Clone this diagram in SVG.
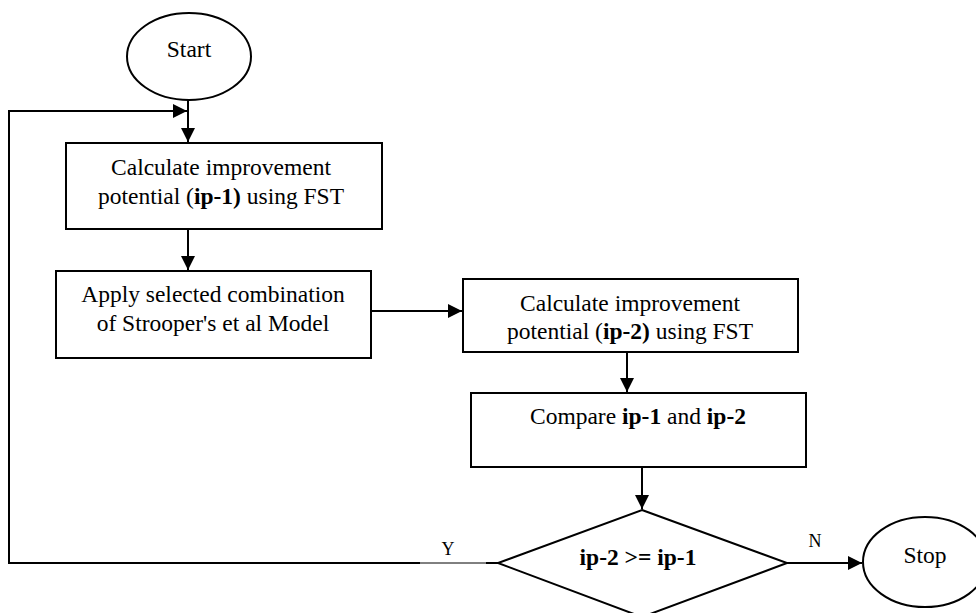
<svg xmlns="http://www.w3.org/2000/svg" width="976" height="613" viewBox="0 0 976 613">
  <style>
    .shape { fill: #ffffff; stroke: #000000; stroke-width: 2; }
    .wire { fill: none; stroke: #000000; stroke-width: 2; }
    .thin { fill: none; stroke: #000000; stroke-width: 1; }
    .txt { font-family: "Liberation Serif", "Times New Roman", serif; font-size: 23.5px; fill: #000000; text-anchor: middle; }
    .lbl { font-family: "Liberation Serif", "Times New Roman", serif; font-size: 18px; fill: #000000; text-anchor: middle; }
    .b { font-weight: bold; }
  </style>
  <defs>
    <marker id="arrow" markerUnits="userSpaceOnUse" markerWidth="15" markerHeight="15" refX="14" refY="7" orient="auto">
      <path d="M0,0 L14,7 L0,14 z" fill="#000000"/>
    </marker>
  </defs>
  <rect width="976" height="613" fill="#ffffff"/>

  <g id="connectors">
    <!-- Start to first calculation -->
    <line class="wire" x1="188" y1="100" x2="188" y2="142" marker-end="url(#arrow)"/>
    <!-- ip-1 to model application -->
    <line class="wire" x1="188" y1="229" x2="188" y2="270" marker-end="url(#arrow)"/>
    <!-- model application to ip-2 -->
    <line class="wire" x1="371" y1="311" x2="462" y2="311" marker-end="url(#arrow)"/>
    <!-- ip-2 to comparison -->
    <line class="wire" x1="627" y1="352" x2="627" y2="392" marker-end="url(#arrow)"/>
    <!-- comparison to decision -->
    <line class="wire" x1="642" y1="467" x2="642" y2="509" marker-end="url(#arrow)"/>
    <!-- decision: N to Stop -->
    <line class="wire" x1="787" y1="563" x2="862" y2="563" marker-end="url(#arrow)"/>
    <!-- decision: Y loops back above the first calculation -->
    <line class="wire" x1="498" y1="563" x2="486" y2="563"/>
    <line class="thin" x1="486" y1="563" x2="420" y2="563"/>
    <polyline class="wire" points="420,563 9,563 9,111 187,111" marker-end="url(#arrow)"/>
    <text class="lbl" x="448" y="555">Y</text>
    <text class="lbl" x="815" y="547">N</text>
  </g>

  <g id="start">
    <ellipse class="shape" cx="189" cy="56.5" rx="62" ry="43.5"/>
    <text class="txt" x="189" y="57">Start</text>
  </g>

  <g id="calc-ip1">
    <rect class="shape" x="66" y="143" width="316" height="86"/>
    <text class="txt" x="221" y="175">Calculate improvement</text>
    <text class="txt" x="221" y="204">potential (<tspan class="b">ip-1)</tspan> using FST</text>
  </g>

  <g id="apply-model">
    <rect class="shape" x="56" y="271" width="315" height="87"/>
    <text class="txt" x="213" y="302">Apply selected combination</text>
    <text class="txt" x="213" y="331">of Strooper's et al Model</text>
  </g>

  <g id="calc-ip2">
    <rect class="shape" x="463" y="279" width="335" height="73"/>
    <text class="txt" x="630" y="311">Calculate improvement</text>
    <text class="txt" x="630" y="339">potential (<tspan class="b">ip-2)</tspan> using FST</text>
  </g>

  <g id="compare">
    <rect class="shape" x="471" y="393" width="335" height="74"/>
    <text class="txt" x="638" y="424">Compare <tspan class="b">ip-1</tspan> and <tspan class="b">ip-2</tspan></text>
  </g>

  <g id="decision">
    <polygon class="shape" points="642,510 787,563 642,617 498,563"/>
    <text class="txt b" x="638" y="565">ip-2 &gt;= ip-1</text>
  </g>

  <g id="stop">
    <ellipse class="shape" cx="925" cy="562" rx="62" ry="45"/>
    <text class="txt" x="925" y="563">Stop</text>
  </g>
</svg>
